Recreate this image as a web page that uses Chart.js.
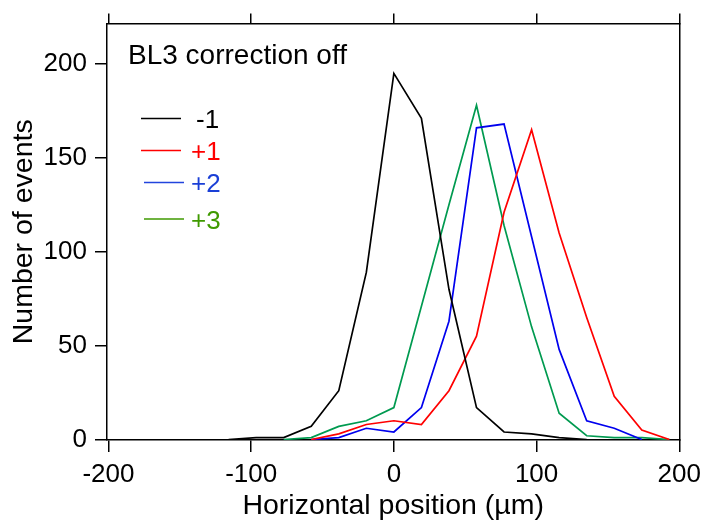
<!DOCTYPE html>
<html>
<head>
<meta charset="utf-8">
<script src="https://cdn.jsdelivr.net/npm/chart.js@4/dist/chart.umd.min.js"></script>
<style>
  html, body { margin: 0; padding: 0; background: #fff; }
  #wrap { width: 708px; height: 521px; }
</style>
</head>
<body>
<div id="wrap"><canvas id="histo" width="708" height="521"></canvas></div>
<script>
// bin centres (µm) shared by all four histograms
const binCenters = [-115.8, -96.5, -77.2, -57.9, -38.6, -19.3, 0, 19.3, 38.6, 57.9, 77.2, 96.5, 115.8, 135.1, 154.4, 173.7, 193.0];

// counts per bin, null where the trace has no point
const orderMinus1 = [0, 1, 1, 7, 26, 89, 195, 171, 80, 17, 4, 3, 1, 0, null, null, null];
const orderPlus1  = [null, null, null, 0, 3, 8, 10, 8, 26, 55, 121, 165, 110, 65, 23, 5, 0];
const orderPlus2  = [null, null, null, 0, 1, 6, 4, 17, 63, 166, 168, 108, 48, 10, 6, 0, null];
const orderPlus3  = [null, null, 0, 1, 7, 10, 17, 71, 125, 178, 114, 60, 14, 2, 1, 1, 0];

const xTicks = [-200, -100, 0, 100, 200];
const yTicks = [0, 50, 100, 150, 200];

const seriesNames = ['-1', '+1', '+2', '+3'];
const lineColors = ['#000000', '#ff0000', '#0000ee', '#009a50'];
const legendLineColors = ['#000000', '#ff0000', '#2244dd', '#3f9a00'];
const legendTextColors = ['#000000', '#ff0000', '#1a3fd6', '#3f9a00'];

const FONT = '"Liberation Sans", Arial, Helvetica, sans-serif';

const toPoints = vals => binCenters
  .map((x, i) => ({ x: x, y: vals[i] }))
  .filter(p => p.y !== null);

const allSeries = [orderMinus1, orderPlus1, orderPlus2, orderPlus3];

// title + legend drawn inside the plot
const legendPlugin = {
  id: 'insideLegend',
  afterDraw(chart) {
    const ctx = chart.ctx;
    ctx.save();
    ctx.textBaseline = 'alphabetic';
    ctx.textAlign = 'left';
    ctx.fillStyle = '#000';
    ctx.font = '28px ' + FONT;
    ctx.fillText('BL3 correction off', 128, 64);

    const rows = [
      { x0: 141, x1: 181, y: 118.5, tx: 196, ty: 128 },
      { x0: 141, x1: 181, y: 150.5, tx: 191, ty: 159.5 },
      { x0: 144, x1: 184, y: 182.5, tx: 191, ty: 192 },
      { x0: 144, x1: 184, y: 219, tx: 191, ty: 228.5 }
    ];
    ctx.font = '26px ' + FONT;
    rows.forEach((r, i) => {
      ctx.strokeStyle = legendLineColors[i];
      ctx.lineWidth = 1.6;
      ctx.beginPath();
      ctx.moveTo(r.x0, r.y);
      ctx.lineTo(r.x1, r.y);
      ctx.stroke();
      ctx.fillStyle = legendTextColors[i];
      ctx.fillText(seriesNames[i], r.tx, r.ty);
    });
    ctx.restore();
  }
};

const tickFont = { family: FONT, size: 26 };
const titleFont = { family: FONT, size: 28.5 };

const ctx = document.getElementById('histo').getContext('2d');
const chart = new Chart(ctx, {
  type: 'scatter',
  data: {
    datasets: allSeries.map((vals, i) => ({
      label: seriesNames[i],
      data: toPoints(vals),
      showLine: true,
      borderColor: lineColors[i],
      backgroundColor: lineColors[i],
      borderWidth: 1.7,
      pointRadius: 0,
      tension: 0
    }))
  },
  options: {
    responsive: false,
    animation: false,
    layout: { padding: 0 },
    plugins: {
      legend: { display: false },
      tooltip: { enabled: false }
    },
    scales: {
      x: {
        type: 'linear',
        position: 'bottom',
        min: -201,
        max: 200,
        afterBuildTicks: s => { s.ticks = xTicks.map(v => ({ value: v })); },
        afterFit: s => { s.height = 81; },
        ticks: { font: tickFont, color: '#000', padding: 7, maxRotation: 0 },
        grid: { drawOnChartArea: false, tickLength: 12, color: '#000', lineWidth: 1.5 },
        border: { color: '#000', width: 1.5 },
        title: { display: true, text: 'Horizontal position (µm)', font: titleFont, color: '#000', padding: { top: 0, bottom: -2 } }
      },
      xTop: {
        type: 'linear',
        position: 'top',
        min: -201,
        max: 200,
        afterBuildTicks: s => { s.ticks = xTicks.map(v => ({ value: v })); },
        afterFit: s => { s.height = 20; },
        ticks: { display: false },
        grid: { drawOnChartArea: false, tickLength: 10, color: '#000', lineWidth: 1.5 },
        border: { color: '#000', width: 1.5 }
      },
      y: {
        type: 'linear',
        position: 'left',
        min: -0.26,
        max: 221.5,
        afterBuildTicks: s => { s.ticks = yTicks.map(v => ({ value: v })); },
        afterFit: s => { s.width = 107; },
        ticks: { font: tickFont, color: '#000', padding: 8 },
        grid: { drawOnChartArea: false, tickLength: 12, color: '#000', lineWidth: 1.5 },
        border: { color: '#000', width: 1.5 },
        title: { display: true, text: 'Number of events', font: titleFont, color: '#000', padding: { top: 7, bottom: 0 } }
      },
      yRight: {
        type: 'linear',
        position: 'right',
        min: -0.26,
        max: 221.5,
        afterFit: s => { s.width = 27; },
        ticks: { display: false },
        grid: { display: false },
        border: { color: '#000', width: 1.5 }
      }
    }
  },
  plugins: [legendPlugin]
});
</script>
</body>
</html>
